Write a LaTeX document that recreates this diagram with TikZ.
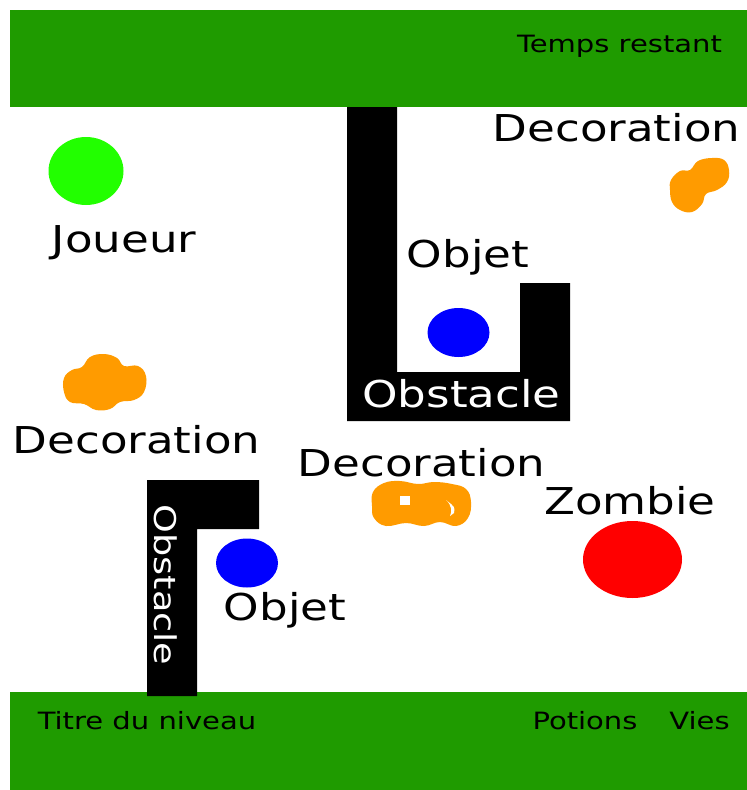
\documentclass[tikz,border=0pt]{standalone}
\usepackage{fontspec}
\setmainfont{DejaVu Sans}[FakeStretch=1.22]
\usetikzlibrary{shapes.geometric, positioning}
\definecolor{hudgreen}{RGB}{31, 155, 0}
\definecolor{playergreen}{RGB}{34, 255, 0}
\definecolor{itemblue}{RGB}{0, 0, 255}
\definecolor{zombiered}{RGB}{255, 0, 0}
\definecolor{decororange}{RGB}{255, 155, 0}

\tikzset{
  biglabel/.style={inner sep=0pt, anchor=base, font=\fontsize{37}{44}\selectfont},
  hudlabel/.style={inner sep=0pt, anchor=base, font=\fontsize{23.8}{28}\selectfont},
  item/.style={ellipse, inner sep=0pt, minimum width=62pt, minimum height=49pt, fill=itemblue},
  deco/.style={fill=decororange},
}

\begin{document}
\begin{tikzpicture}[x=1pt, y=-1pt]
    \useasboundingbox (0,0) rectangle (747,790);

    % Top bar
    \fill[hudgreen] (10,10) rectangle (747,107);
    \node[hudlabel] (temps) at (619.5,52) {Temps restant};

    % Bottom bar
    \fill[hudgreen] (10,692) rectangle (747,790);
    \node[hudlabel] (titre) at (147,729) {Titre du niveau};
    \node[hudlabel] (potions) at (585,729) {Potions};
    \node[hudlabel] (vies) at (699.5,729) {Vies};

    % Obstacles
    \fill[black] (347,107) -- (397,107) -- (397,372) -- (520,372) -- (520,283)
        -- (570,283) -- (570,421) -- (347,421) -- cycle;
    \node[biglabel, text=white] (obstaclea) at (461.5,407) {Obstacle};
    \fill[black] (147,480) -- (259,480) -- (259,529) -- (197,529) -- (197,696)
        -- (147,696) -- cycle;
    \node[inner sep=0pt, rotate=-90, text=white, font=\fontsize{30}{36}\selectfont]
        (obstacleb) at (166,585) {Obstacle};

    % Player
    \node[ellipse, inner sep=0pt, minimum width=75pt, minimum height=68pt, fill=playergreen]
        (joueur) at (86,171) {};
    \node[biglabel] (joueurlabel) at (124,252) {Joueur};

    % Items
    \node[item] (objeta) at (458.5,332.5) {};
    \node[biglabel] (objetalabel) at (468,267) {Objet};
    \node[item] (objetb) at (247,563) {};
    \node[biglabel] (objetblabel) at (285,620) {Objet};

    % Zombie
    \node[ellipse, inner sep=0pt, minimum width=99pt, minimum height=77pt, fill=zombiered]
        (zombie) at (632.5,559.5) {};
    \node[biglabel] (zombielabel) at (630,514) {Zombie};

    % Decorations
    \fill[deco] plot[smooth cycle, tension=0.7] coordinates {(671,180) (680,171) (690,170)
        (698,161) (712,158) (724,160) (729,170) (727,182) (717,190) (706,194) (702,204)
        (692,212) (680,210) (672,202) (670,190)};
    \node[biglabel] (decoa) at (616.5,141) {Decoration};

    \fill[deco] plot[smooth cycle, tension=0.7] coordinates {(64,378) (72,370) (82,367)
        (90,357) (104,354) (117,358) (124,366) (138,366) (146,376) (144,392) (134,400)
        (120,402) (110,409) (96,410) (84,404) (70,402) (64,392)};
    \node[biglabel] (decob) at (136.5,453) {Decoration};

    \fill[deco] plot[smooth cycle, tension=0.7] coordinates {(373,492) (384,483) (400,481)
        (418,484) (434,482) (452,484) (466,489) (471,502) (468,518) (456,526) (440,522)
        (424,526) (406,523) (386,526) (374,518) (372,506)};
    \fill[white] (400,496) rectangle (410,505);
    \fill[white] (446,500) .. controls (452,505) and (452,512) .. (450,516)
        -- (454,513) .. controls (455,507) .. (446,500) -- cycle;
    \node[biglabel] (decoc) at (421.5,476) {Decoration};
\end{tikzpicture}
\end{document}
